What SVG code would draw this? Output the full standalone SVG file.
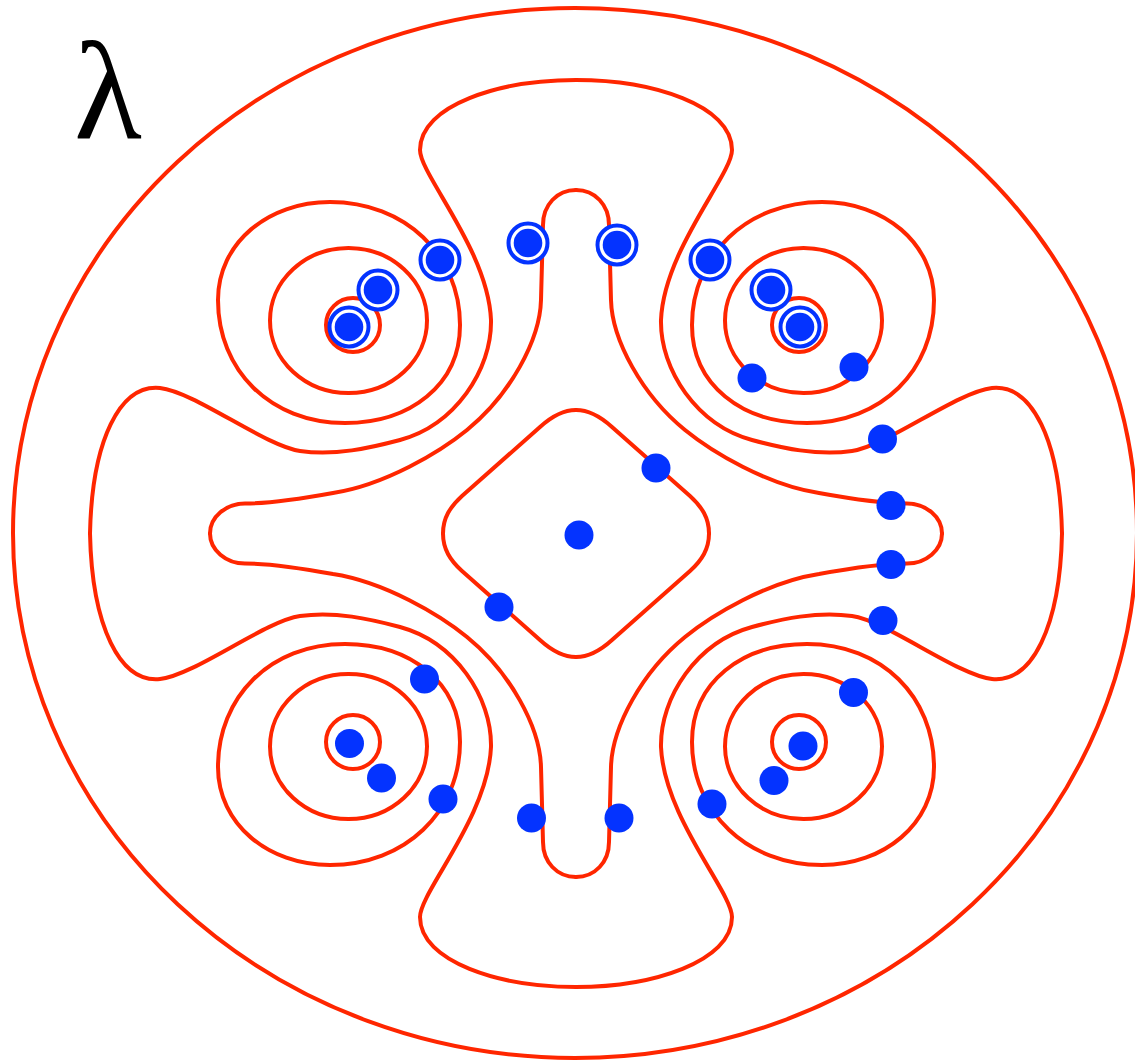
<svg xmlns="http://www.w3.org/2000/svg" xmlns:xlink="http://www.w3.org/1999/xlink" width="1135" height="1062" viewBox="0 0 1135 1062">
<style>
.c{fill:none;stroke:#FF2600;stroke-width:4;stroke-linecap:round;stroke-linejoin:round}
.d{fill:#0433FF}
.r{fill:#fff;stroke:#0433FF;stroke-width:4}
.lab{font-family:"Liberation Serif","DejaVu Serif",serif;font-size:140px;fill:#000}
</style>
<defs>
<g id="quarter">
<path d="M576,80 C500,80 420,105 420,150 C420,175 488,250 491,320 C492,370 455,425 400,440 C370,448 335,456 300,451 C265,446 195,392 160,388 C120,384 92,440 90,533.5"/>
<path d="M576,190 C557,190 543,205 543,225 L541,300 C540,340 510,395 467,430 C440,452 385,485 333,493 C300,499 270,503.5 245,503.5 C226,503.5 210,517 210,533.5"/>
<path d="M576,410 C562,410 551,417 540,427 L462,496 C450,507 443,518 443,533.5"/>
<circle cx="353" cy="325" r="27"/>
<ellipse cx="348.5" cy="320.5" rx="78.5" ry="72.5"/>
<path d="M330,202 C405,202 460,255 460,325 C460,385 410,423 345,423 C270,423 218,370 218,300 C218,243 268,202 330,202 Z"/>
</g>
</defs>
<rect width="1135" height="1062" fill="#fff"/>
<g id="curves" class="c">
<ellipse cx="575" cy="533" rx="562" ry="525"/>
<use xlink:href="#quarter"/>
<use xlink:href="#quarter" transform="matrix(-1,0,0,1,1152,0)"/>
<use xlink:href="#quarter" transform="matrix(1,0,0,-1,0,1067)"/>
<use xlink:href="#quarter" transform="matrix(-1,0,0,-1,1152,1067)"/>
</g>
<g id="ringed-points">
<g id="r1"><circle class="r" cx="440" cy="260" r="19.5"/><circle class="d" cx="440" cy="260" r="14.3"/></g>
<g id="r2"><circle class="r" cx="378" cy="290" r="19.5"/><circle class="d" cx="378" cy="290" r="14.3"/></g>
<g id="r3"><circle class="r" cx="349" cy="327" r="19.5"/><circle class="d" cx="349" cy="327" r="14.3"/></g>
<g id="r4"><circle class="r" cx="528" cy="243" r="19.5"/><circle class="d" cx="528" cy="243" r="14.3"/></g>
<g id="r5"><circle class="r" cx="617" cy="245" r="19.5"/><circle class="d" cx="617" cy="245" r="14.3"/></g>
<g id="r6"><circle class="r" cx="710" cy="260" r="19.5"/><circle class="d" cx="710" cy="260" r="14.3"/></g>
<g id="r7"><circle class="r" cx="771" cy="290" r="19.5"/><circle class="d" cx="771" cy="290" r="14.3"/></g>
<g id="r8"><circle class="r" cx="800" cy="327" r="19.5"/><circle class="d" cx="800" cy="327" r="14.3"/></g>
</g>
<g id="points" class="d">
<circle id="p1" cx="752" cy="378" r="14.5"/>
<circle id="p2" cx="854" cy="367" r="14.5"/>
<circle id="p3" cx="882.5" cy="439" r="14.5"/>
<circle id="p4" cx="891" cy="505.5" r="14.5"/>
<circle id="p5" cx="891" cy="564.5" r="14.5"/>
<circle id="p6" cx="883" cy="620.5" r="14.5"/>
<circle id="p7" cx="656" cy="468" r="14.5"/>
<circle id="p8" cx="579" cy="535" r="14.5"/>
<circle id="p9" cx="499" cy="607" r="14.5"/>
<circle id="p10" cx="424.5" cy="679" r="14.5"/>
<circle id="p11" cx="349.5" cy="743.5" r="14.5"/>
<circle id="p12" cx="381.5" cy="778" r="14.5"/>
<circle id="p13" cx="443" cy="799" r="14.5"/>
<circle id="p14" cx="531.5" cy="818" r="14.5"/>
<circle id="p15" cx="619" cy="818" r="14.5"/>
<circle id="p16" cx="712" cy="804" r="14.5"/>
<circle id="p17" cx="853.5" cy="692.5" r="14.5"/>
<circle id="p18" cx="803" cy="746" r="14.5"/>
<circle id="p19" cx="774" cy="780.5" r="14.5"/>
</g>
<g id="label"><text class="lab" x="74" y="138">λ</text></g>
</svg>
